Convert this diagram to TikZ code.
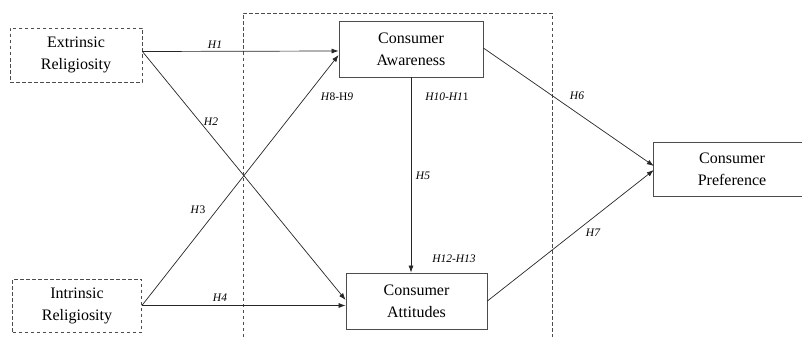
\documentclass[tikz,border=0pt]{standalone}
\usepackage{fontspec}
\setmainfont{Liberation Serif}
\usetikzlibrary{arrows.meta}
\begin{document}
\begin{tikzpicture}[x=1pt,y=-1pt,
  box/.style={draw=black!70,line width=0.8pt,align=center,inner sep=0pt,
    font=\fontsize{16}{22}\selectfont},
  dbox/.style={box,dash pattern=on 3.5pt off 2.5pt},
  lab/.style={font=\fontsize{11.5}{13}\selectfont\itshape,inner sep=0pt},
  arr/.style={draw=black!85,line width=0.7pt,-{Latex[length=7pt,width=5pt]}}]
\useasboundingbox (0,0) rectangle (802,337);
% dashed frame (open at bottom)
\draw[black!70,line width=0.7pt,dash pattern=on 3.5pt off 2.5pt] (243,337) -- (243,13) -- (552,13) -- (552,337);
% nodes
\node[dbox,minimum width=132pt,minimum height=54pt] (ext) at (76,55) {Extrinsic\\Religiosity};
\node[dbox,minimum width=129pt,minimum height=53pt] (int) at (77,305.5) {Intrinsic\\Religiosity};
\node[box,minimum width=144pt,minimum height=56pt] (aw) at (411,49) {Consumer\\Awareness};
\node[box,minimum width=141pt,minimum height=56pt] (att) at (416.5,301) {Consumer\\Attitudes};
\node[align=center,inner sep=0pt,font=\fontsize{16}{22}\selectfont,minimum width=156pt,minimum height=53pt] (pref) at (732,169.5) {Consumer\\Preference};
\draw[black!70,line width=0.8pt] (pref.north east) -- (pref.north west) -- (pref.south west) -- (pref.south east);
% arrows
\draw[arr] ([yshift=3.5pt]ext.east) -- ([yshift=-2pt]aw.west);
\draw[arr] ([yshift=3.5pt]ext.east) -- ([yshift=1pt]att.west);
\draw[arr] (int.east) -- ([yshift=-6pt]aw.west);
\draw[arr] (int.east) -- ([yshift=-4.5pt]att.west);
\draw[arr] (aw.south) -- (aw.south |- att.north);
\draw[arr] ([yshift=1pt]aw.east) -- ([yshift=3.5pt]pref.west);
\draw[arr] (att.east) -- ([yshift=-0.5pt]pref.west);
% labels
\node[lab] (l1) at (215,45) {H1};
\node[lab] (l2) at (211,122) {H2};
\node[lab] (l3) at (198,210) {H\textup{3}};
\node[lab] (l4) at (220,298) {H4};
\node[lab] (l5) at (423,176) {H5};
\node[lab] (l6) at (577,96) {H6};
\node[lab] (l7) at (593,233) {H7};
\node[lab] (l89) at (337,97) {H\textup{8-H}9};
\node[lab] (l1011) at (447,97) {H10-H1\textup{1}};
\node[lab] (l1213) at (454,259) {H12-H13};
\end{tikzpicture}
\end{document}
